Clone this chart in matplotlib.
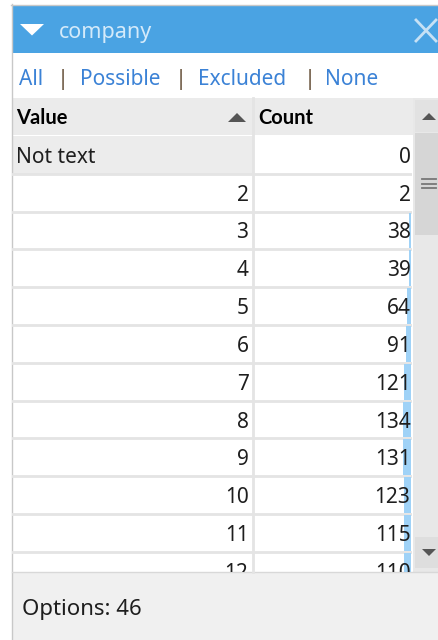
"""
Listbox-Filter "company" als Bild nachbauen (Wert / Anzahl mit Mini-Balken)
"""

import matplotlib
matplotlib.use("Agg")
import matplotlib.pyplot as plt
from matplotlib.patches import Rectangle, Polygon

# --- Daten ---
FIELD   = "company"
LINKS   = ["All", "Possible", "Excluded", "None"]
VALUES  = ["Not text", "2", "3", "4", "5", "6", "7", "8", "9", "10", "11", "12"]
COUNTS  = [0, 2, 38, 39, 64, 91, 121, 134, 131, 123, 115, 110]
OPTIONS = 46

W, H = 438, 640
FONT = ["Noto Sans", "DejaVu Sans"]
BOLD = ["Lato", "DejaVu Sans"]
BLUE = "#4aa3e3"
GRID = "#e4e4e4"
TXT  = "#1e1e1e"
DY   = 2.5   # Noto Sans sitzt bei va="center" etwas zu hoch

fig = plt.figure(figsize=(W / 100, H / 100), dpi=100)
ax = fig.add_axes([0, 0, 1, 1])
ax.set_xlim(0, W)
ax.set_ylim(H, 0)
ax.axis("off")

def rect(x, y, w, h, color, **kw):
    ax.add_patch(Rectangle((x, y), w, h, facecolor=color, edgecolor="none", **kw))

# Rahmen
rect(0, 0, W, H, "white")
ax.plot([11.5, 11.5], [4, H], color="#c8c8c8", lw=1)
ax.plot([11, W], [4.5, 4.5], color="#c8c8c8", lw=1)

# --- Titelleiste ---
rect(12, 5, W - 12, 48, BLUE)
ax.add_patch(Polygon([(20, 24), (44, 24), (32, 35.5)], closed=True,
                     facecolor="white", edgecolor="none"))
ax.text(59, 30 + DY, FIELD, fontsize=15.5, family=FONT, color="#d4eafa",
        va="center", ha="left")
ax.plot([416, 436], [20, 41], color="#c6e1f5", lw=2)
ax.plot([416, 436], [41, 20], color="#c6e1f5", lw=2)

# --- Auswahl-Links ---
link_x = [19, 80, 198, 325]
sep_x  = [63, 181, 310]
for x, s in zip(link_x, LINKS):
    ax.text(x, 77 + DY, s, fontsize=15, family=FONT, color="#3b82d6",
            va="center", ha="left")
for x in sep_x:
    ax.text(x, 77 + DY, "|", fontsize=16, family=FONT, color="#6e5a44",
            va="center", ha="center")

# --- Kopfzeile ---
TABLE_TOP = 98
HEAD_H    = 37
COL_X     = 252.5
TABLE_R   = 412
rect(12, TABLE_TOP, W - 12, HEAD_H, "#ebebeb")
ax.text(16, 118, "Value", fontsize=14.5, family=BOLD, weight="bold",
        color="black", va="center", ha="left")
ax.add_patch(Polygon([(228, 122), (246, 122), (237, 113)], closed=True,
                     facecolor="#555555", edgecolor="none"))
ax.text(258, 118, "Count", fontsize=14.5, family=BOLD, weight="bold",
        color="black", va="center", ha="left")

# --- Zeilen ---
ROW0   = 136
ROW_H  = 37.8
BOTTOM = 572
row_c = [ROW0 + ROW_H * (i + 0.5) for i in range(len(VALUES))]

clip = Rectangle((12, ROW0), TABLE_R - 12, BOTTOM - ROW0, transform=ax.transData)

for i, (v, c) in enumerate(zip(VALUES, COUNTS)):
    top = ROW0 + ROW_H * i
    left_col = "#ececec" if v == "Not text" else "white"
    r1 = Rectangle((12, top), COL_X - 12, ROW_H, facecolor=left_col, edgecolor="none")
    r2 = Rectangle((COL_X, top), TABLE_R - COL_X, ROW_H, facecolor="white", edgecolor="none")
    for r in (r1, r2):
        ax.add_patch(r)
        r.set_clip_path(clip)
    line = ax.plot([12, TABLE_R], [top + ROW_H, top + ROW_H], color=GRID, lw=2)[0]
    line.set_clip_path(clip)
    y = row_c[i] + DY
    if v == "Not text":
        t1 = ax.text(16, y, v, fontsize=15, family=FONT, color=TXT,
                     va="center", ha="left", clip_on=True, zorder=5)
    else:
        t1 = ax.text(COL_X - 4, y, v, fontsize=15, family=FONT,
                     color=TXT, va="center", ha="right", clip_on=True, zorder=5)
    t2 = ax.text(TABLE_R - 1.5, y, str(c), fontsize=15, family=FONT,
                 color=TXT, va="center", ha="right", clip_on=True, zorder=5)
    t1.set_clip_path(clip)
    t2.set_clip_path(clip)

# Mini-Balken (Anteil am Maximalwert)
bar_scale = 8 / max(COUNTS)
bars = ax.barh(row_c, [-c * bar_scale for c in COUNTS], left=TABLE_R - 1,
               height=ROW_H - 2, color="#9fd2f7", zorder=3)
for b in bars:
    b.set_clip_path(clip)

ax.plot([COL_X, COL_X], [TABLE_TOP, BOTTOM], color=GRID, lw=2, zorder=4)

# --- Scrollbar ---
rect(413, TABLE_TOP, W - 413, BOTTOM - TABLE_TOP, "#e8e8e8")
rect(415, 100, W - 415, 32, "#e2e2e2")
ax.add_patch(Polygon([(422, 120), (436, 120), (429, 113)], closed=True,
                     facecolor="#555555", edgecolor="none"))
rect(415, 133, W - 415, 102, "#d6d6d6")
for y in (179, 183.5, 188):
    ax.plot([422, 436], [y, y], color="#777777", lw=1.3)
rect(415, 537, W - 415, 31, "#dedede")
ax.add_patch(Polygon([(422, 549), (436, 549), (429, 556)], closed=True,
                     facecolor="#555555", edgecolor="none"))

# --- Fußzeile ---
rect(12, BOTTOM, W - 12, H - BOTTOM, "#f0f0f0")
ax.plot([12, W], [BOTTOM, BOTTOM], color="#d8d8d8", lw=1)
ax.text(22, 607 + DY, f"Options: {OPTIONS}", fontsize=16, family=FONT,
        color=TXT, va="center", ha="left")

fig.savefig("out.png", dpi=100)
plt.close(fig)
